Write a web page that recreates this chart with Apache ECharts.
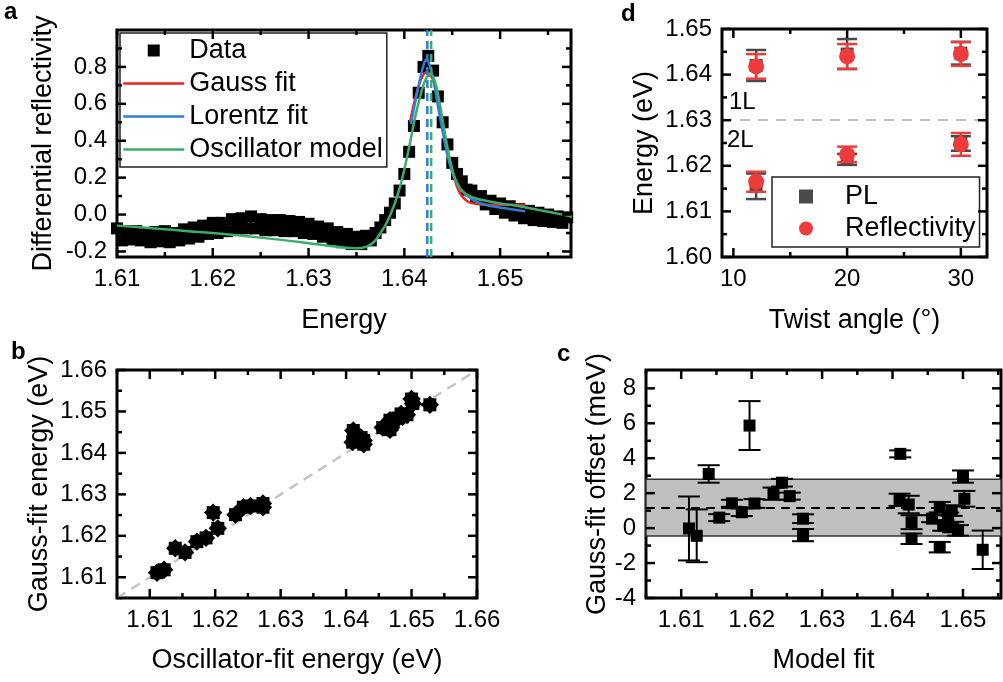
<!DOCTYPE html>
<html>
<head>
<meta charset="utf-8">
<script src="https://cdn.jsdelivr.net/npm/echarts@6.0.0/dist/echarts.min.js"></script>
<style>
  html, body { margin: 0; padding: 0; background: #fff; }
  #chart { width: 1003px; height: 682px; }
</style>
</head>
<body>
<div id="chart"></div>
<script>
// ---------- panel a: differential reflectivity spectrum and fits ----------
const reflStartEnergy = 1.61;
const reflEnergyStep = 0.0005;
const reflectivity = [
  -0.075, -0.14, -0.09, -0.135, -0.09, -0.14, -0.105, -0.15, -0.095, -0.145,
  -0.09, -0.15, -0.10, -0.14, -0.08, -0.13, -0.07, -0.12, -0.06, -0.105,
  -0.045, -0.10, -0.045, -0.09, -0.025, -0.075, -0.02, -0.075, -0.01, -0.075,
  -0.025, -0.085, -0.03, -0.085, -0.03, -0.09, -0.035, -0.09, -0.04, -0.10,
  -0.05, -0.105, -0.065, -0.12, -0.075, -0.135, -0.095, -0.15, -0.105, -0.16,
  -0.12, -0.16, -0.115, -0.14, -0.10, -0.07, -0.03, 0.01, 0.06, 0.13,
  0.22, 0.34, 0.48, 0.66, 0.80, 0.86, 0.78, 0.64, 0.50, 0.38,
  0.28, 0.22, 0.18, 0.135, 0.13, 0.09, 0.10, 0.055, 0.075, 0.03,
  0.06, 0.01, 0.045, -0.005, 0.03, -0.02, 0.02, -0.03, 0.01, -0.035,
  0.0, -0.04, -0.01, -0.045, -0.015, -0.04
];
const gaussFit = [
  [1.6406, 0.50], [1.6410, 0.60], [1.6415, 0.70], [1.6420, 0.76], [1.6423, 0.77],
  [1.6427, 0.76], [1.6432, 0.70], [1.6436, 0.60], [1.6440, 0.49], [1.6444, 0.38],
  [1.6448, 0.28], [1.6452, 0.20], [1.6456, 0.14], [1.6460, 0.10], [1.6465, 0.075],
  [1.6470, 0.062], [1.6480, 0.055], [1.6500, 0.053], [1.6526, 0.053]
];
const lorentzFit = [
  [1.6407, 0.49], [1.6411, 0.60], [1.6415, 0.70], [1.6419, 0.79], [1.6423, 0.84],
  [1.6427, 0.80], [1.6431, 0.71], [1.6435, 0.59], [1.6440, 0.45], [1.6445, 0.32],
  [1.6450, 0.23], [1.6455, 0.17], [1.6460, 0.13], [1.6470, 0.085], [1.6480, 0.06],
  [1.6495, 0.042], [1.6510, 0.03], [1.6526, 0.018]
];
const oscillatorModel = [
  [1.6100, -0.06], [1.6150, -0.08], [1.6200, -0.10], [1.6250, -0.125], [1.6300, -0.155],
  [1.6330, -0.175], [1.6350, -0.183], [1.6360, -0.175], [1.6368, -0.15], [1.6375, -0.10],
  [1.6382, -0.04], [1.6390, 0.06], [1.6397, 0.18], [1.6404, 0.34], [1.6411, 0.52],
  [1.6417, 0.65], [1.6422, 0.73], [1.6427, 0.76], [1.6432, 0.72], [1.6437, 0.60],
  [1.6442, 0.45], [1.6447, 0.31], [1.6452, 0.21], [1.6457, 0.15], [1.6463, 0.115],
  [1.6470, 0.095], [1.6480, 0.08], [1.6500, 0.06], [1.6520, 0.045], [1.6540, 0.025],
  [1.6560, 0.005], [1.6575, -0.012]
];
const lorentzPeak = 1.6424;
const oscillatorPeak = 1.6428;
const aEnergyRange = [1.61, 1.6574];
const aReflRange = [-0.23, 1.0];

// ---------- panels b and c: fitted exciton energies ----------
const oscFitEnergy = [
  1.6111, 1.6122, 1.6139, 1.6154, 1.6172, 1.6186, 1.6197, 1.6204, 1.6231, 1.6243,
  1.6254, 1.6273, 1.6273, 1.6411, 1.6410, 1.6423, 1.6427, 1.6427, 1.6456, 1.6467,
  1.6467, 1.6472, 1.6479, 1.6484, 1.6486, 1.6493, 1.6500, 1.6502, 1.6528
];
const gaussFitEnergy = [
  1.6111, 1.6118, 1.6170, 1.6160, 1.6186, 1.6195, 1.6256, 1.6218, 1.6251, 1.6269,
  1.6272, 1.6278, 1.6269, 1.6454, 1.6426, 1.6437, 1.6430, 1.6421, 1.6461, 1.6479,
  1.6456, 1.6474, 1.6484, 1.6494, 1.6487, 1.6492, 1.6530, 1.6519, 1.6516
];
const gaussOffset = [
  -0.02, -0.44, 3.10, 0.60, 1.42, 0.91, 5.87, 1.41, 1.97, 2.60,
  1.83, 0.54, -0.40, 4.25, 1.62, 1.35, 0.34, -0.61, 0.54, 1.20,
  -1.09, 0.15, 0.54, 1.00, 0.06, -0.13, 2.95, 1.68, -1.24
];
const gaussOffsetErr = [
  1.83, 1.51, 0.50, 0.20, 0.20, 0.22, 1.40, 0.25, 0.35, 0.22,
  0.20, 0.25, 0.35, 0.20, 0.35, 0.50, 0.40, 0.30, 0.20, 0.30,
  0.30, 0.30, 0.35, 0.30, 0.30, 0.30, 0.35, 0.45, 1.10
];
const offsetMean = 1.17;
const offsetBand = [-0.45, 2.8];
const bRange = [1.605, 1.66];
const cEnergyRange = [1.605, 1.6554];
const cOffsetRange = [-4, 9.05];

// ---------- panel d: exciton energy vs twist angle ----------
const twistAngles = [12, 20, 30];
const pl1L = [1.6420, 1.6445, 1.6447];
const pl1LErr = [0.0034, 0.0033, 0.0025];
const pl2L = [1.6155, 1.6214, 1.6249];
const pl2LErr = [0.0028, 0.0012, 0.0016];
const refl1L = [1.6418, 1.6440, 1.6445];
const refl1LErr = [0.0027, 0.0027, 0.0026];
const refl2L = [1.6165, 1.6225, 1.6247];
const refl2LErr = [0.0022, 0.0017, 0.0025];
const layerBoundary = 1.63;
const dAngleRange = [9, 32.3];
const dEnergyRange = [1.60, 1.65];

// ---------- tick positions ----------
const aXTicks = [1.61, 1.62, 1.63, 1.64, 1.65];
const aXMinor = [1.615, 1.625, 1.635, 1.645, 1.655];
const aYTicks = [-0.2, 0, 0.2, 0.4, 0.6, 0.8];
const aYMinor = [-0.1, 0.1, 0.3, 0.5, 0.7, 0.9];
const bTicks = [1.61, 1.62, 1.63, 1.64, 1.65, 1.66];
const bMinor = [1.605, 1.615, 1.625, 1.635, 1.645, 1.655];
const cXTicks = [1.61, 1.62, 1.63, 1.64, 1.65];
const cXMinor = [1.605, 1.615, 1.625, 1.635, 1.645, 1.655];
const cYTicks = [-4, -2, 0, 2, 4, 6, 8];
const cYMinor = [-3, -1, 1, 3, 5, 7];
const dXTicks = [10, 20, 30];
const dXMinor = [15, 25];
const dYTicks = [1.60, 1.61, 1.62, 1.63, 1.64, 1.65];
const dYMinor = [1.605, 1.615, 1.625, 1.635, 1.645];

// ---------- styling ----------
const FONT = '"Liberation Sans", Arial, Helvetica, sans-serif';
const RED = '#f0221c';
const BLUE = '#2f7dd8';
const GREEN = '#3aad6b';
const PL_GREY = '#4a4a4a';
const REFL_RED = '#ee3b3b';
const SQUARE = 'path://M0 0L10 0L10 10L0 10Z';
const MAJOR_LEN = 9, MINOR_LEN = 5;

function valueAxis(gridIndex, position, range, ticks, digits, name, nameGap) {
  return {
    type: 'value', gridIndex, position, min: range[0], max: range[1],
    axisLine: { show: false, onZero: false },
    splitLine: { show: false },
    axisTick: { show: false },
    axisLabel: { show: true, customValues: ticks, formatter: v => v.toFixed(digits),
                 fontSize: 24, color: '#000', fontFamily: FONT, margin: 10 },
    name, nameLocation: 'middle', nameGap,
    nameTextStyle: { fontSize: 27, color: '#000', fontFamily: FONT }
  };
}

// grid 0: a, grid 1: d, grid 2: b, grid 3: c
const xAxes = [
  valueAxis(0, 'bottom', aEnergyRange, aXTicks, 2, 'Energy', 50),
  valueAxis(1, 'bottom', dAngleRange, dXTicks, 0, 'Twist angle (°)', 50),
  valueAxis(2, 'bottom', bRange, bTicks, 2, 'Oscillator-fit energy (eV)', 49),
  valueAxis(3, 'bottom', cEnergyRange, cXTicks, 2, 'Model fit', 49)
];
const yAxes = [
  valueAxis(0, 'left', aReflRange, aYTicks, 1, 'Differential reflectivity', 60),
  valueAxis(1, 'left', dEnergyRange, dYTicks, 2, 'Energy (eV)', 64),
  valueAxis(2, 'left', bRange, bTicks, 2, 'Gauss-fit energy (eV)', 64),
  valueAxis(3, 'left', cOffsetRange, cYTicks, 0, 'Gauss-fit offset (meV)', 35)
];

const gridBox = { show: true, borderColor: '#000', borderWidth: 3, backgroundColor: 'transparent' };

// Vertical error bars with caps; each item is [x, y, err].
function errorBars(capHalf, color, width) {
  return function (params, api) {
    const x = api.value(0), y = api.value(1), e = api.value(2);
    const hi = api.coord([x, y + e]);
    const lo = api.coord([x, y - e]);
    const st = { stroke: color, lineWidth: width };
    return {
      type: 'group',
      children: [
        { type: 'line', shape: { x1: hi[0], y1: hi[1], x2: lo[0], y2: lo[1] }, style: st },
        { type: 'line', shape: { x1: hi[0] - capHalf, y1: hi[1], x2: hi[0] + capHalf, y2: hi[1] }, style: st },
        { type: 'line', shape: { x1: lo[0] - capHalf, y1: lo[1], x2: lo[0] + capHalf, y2: lo[1] }, style: st }
      ]
    };
  };
}

const reflData = reflectivity.map((r, i) => [reflStartEnergy + i * reflEnergyStep, r]);
const bPoints = oscFitEnergy.map((e, i) => [e, gaussFitEnergy[i]]);
const cPoints = oscFitEnergy.map((e, i) => [e, gaussOffset[i], gaussOffsetErr[i]]);
const zip3 = (xs, ys, es) => xs.map((x, i) => [x, ys[i], es[i]]);
const plPoints = zip3(twistAngles, pl1L, pl1LErr).concat(zip3(twistAngles, pl2L, pl2LErr));
const reflPoints = zip3(twistAngles, refl1L, refl1LErr).concat(zip3(twistAngles, refl2L, refl2LErr));
const vline = x => [[x, aReflRange[0]], [x, aReflRange[1]]];

const solid = c => ({ color: c, opacity: 1 });

const series = [
  // a
  { type: 'scatter', name: 'Data', xAxisIndex: 0, yAxisIndex: 0, data: reflData,
    symbol: 'rect', symbolSize: 12, itemStyle: solid('#000'), z: 2 },
  { type: 'line', name: 'Gauss fit', xAxisIndex: 0, yAxisIndex: 0, data: gaussFit,
    smooth: 0.4, symbol: 'none', lineStyle: { color: RED, width: 2.5 }, itemStyle: { color: RED }, z: 3 },
  { type: 'line', name: 'Lorentz fit', xAxisIndex: 0, yAxisIndex: 0, data: lorentzFit,
    smooth: 0.4, symbol: 'none', lineStyle: { color: BLUE, width: 2.5 }, itemStyle: { color: BLUE }, z: 4 },
  { type: 'line', name: 'Oscillator model', xAxisIndex: 0, yAxisIndex: 0, data: oscillatorModel,
    smooth: 0.4, symbol: 'none', lineStyle: { color: GREEN, width: 2.5 }, itemStyle: { color: GREEN }, z: 5 },
  { type: 'line', xAxisIndex: 0, yAxisIndex: 0, data: vline(lorentzPeak), symbol: 'none',
    lineStyle: { color: BLUE, width: 2.5, type: [8, 5] }, z: 6 },
  { type: 'line', xAxisIndex: 0, yAxisIndex: 0, data: vline(oscillatorPeak), symbol: 'none',
    lineStyle: { color: GREEN, width: 2.5, type: [8, 5] }, z: 6 },

  // d
  { type: 'custom', xAxisIndex: 1, yAxisIndex: 1, data: plPoints,
    encode: { x: 0, y: 1 }, renderItem: errorBars(10, PL_GREY, 2.5), z: 2 },
  { type: 'scatter', name: 'PL', xAxisIndex: 1, yAxisIndex: 1, data: plPoints,
    symbol: 'rect', symbolSize: 13, itemStyle: solid(PL_GREY), z: 3,
    markLine: {
      silent: true, symbol: ['none', 'none'], label: { show: false },
      lineStyle: { color: '#c0c0c0', width: 2, type: [10, 8] },
      data: [{ yAxis: layerBoundary }]
    } },
  { type: 'custom', xAxisIndex: 1, yAxisIndex: 1, data: reflPoints,
    encode: { x: 0, y: 1 }, renderItem: errorBars(10, REFL_RED, 2.5), z: 4 },
  { type: 'scatter', name: 'Reflectivity', xAxisIndex: 1, yAxisIndex: 1, data: reflPoints,
    symbol: 'circle', symbolSize: 16, itemStyle: solid(REFL_RED), z: 5 },

  // b
  { type: 'line', xAxisIndex: 2, yAxisIndex: 2,
    data: [[bRange[0], bRange[0]], [bRange[1], bRange[1]]],
    symbol: 'none', lineStyle: { color: '#c4c4c4', width: 2.5, type: [10, 7] }, z: 1 },
  { type: 'scatter', xAxisIndex: 2, yAxisIndex: 2, data: bPoints,
    symbol: 'rect', symbolSize: 13, itemStyle: solid('#000'), z: 2 },
  { type: 'scatter', xAxisIndex: 2, yAxisIndex: 2, data: bPoints,
    symbol: 'rect', symbolRotate: 45, symbolSize: 13, itemStyle: solid('#000'), z: 2 },

  // c
  { type: 'custom', xAxisIndex: 3, yAxisIndex: 3, data: cPoints,
    encode: { x: 0, y: 1 }, renderItem: errorBars(11, '#000', 2), z: 2,
    markArea: {
      silent: true,
      itemStyle: { color: '#c0c0c0', borderColor: '#333', borderWidth: 1.5, opacity: 1 },
      data: [[{ yAxis: offsetBand[0] }, { yAxis: offsetBand[1] }]]
    },
    markLine: {
      silent: true, symbol: ['none', 'none'], label: { show: false },
      lineStyle: { color: '#000', width: 2, type: [9, 6] },
      data: [{ yAxis: offsetMean }]
    } },
  { type: 'scatter', xAxisIndex: 3, yAxisIndex: 3, data: cPoints,
    symbol: 'rect', symbolSize: 12, itemStyle: solid('#000'), z: 3 }
];

const legendText = { fontSize: 27, lineHeight: 27, color: '#000', fontFamily: FONT };

const option = {
  animation: false,
  backgroundColor: '#fff',
  grid: [
    Object.assign({ left: 117, top: 30, width: 454, height: 227 }, gridBox),
    Object.assign({ left: 722, top: 29, width: 265, height: 228 }, gridBox),
    Object.assign({ left: 117, top: 370, width: 360, height: 228 }, gridBox),
    Object.assign({ left: 646, top: 370, width: 355, height: 228 }, gridBox)
  ],
  xAxis: xAxes,
  yAxis: yAxes,
  legend: [
    { data: [
        { name: 'Data', icon: SQUARE, itemStyle: { opacity: 1, color: '#000' } },
        { name: 'Gauss fit' }, { name: 'Lorentz fit' }, { name: 'Oscillator model' }
      ],
      orient: 'vertical', left: 120, top: 33, padding: [4, 4, 4, 2],
      itemWidth: 61, itemHeight: 12, itemGap: 6, selectedMode: false,
      symbolKeepAspect: true,
      itemStyle: { opacity: 0 },
      lineStyle: { width: 2.5 },
      borderColor: '#222', borderWidth: 1.5, backgroundColor: '#fff',
      textStyle: legendText },
    { data: [
        { name: 'PL', icon: SQUARE, itemStyle: { opacity: 1, color: PL_GREY } },
        { name: 'Reflectivity', icon: 'circle', itemStyle: { opacity: 1, color: REFL_RED } }
      ],
      orient: 'vertical', left: 772, top: 177, padding: [6, 4, 5, 27],
      itemWidth: 68, itemHeight: 14, itemGap: 5, selectedMode: false,
      symbolKeepAspect: true,
      borderColor: '#222', borderWidth: 1.5, backgroundColor: '#fff',
      textStyle: legendText }
  ],
  series
};

const chart = echarts.init(document.getElementById('chart'), null, { renderer: 'canvas' });
chart.setOption(option);

// Inward frame ticks on all four sides, placed through each grid's axis scales.
const frames = [
  [0, aEnergyRange, aReflRange, aXTicks, aXMinor, aYTicks, aYMinor],
  [1, dAngleRange, dEnergyRange, dXTicks, dXMinor, dYTicks, dYMinor],
  [2, bRange, bRange, bTicks, bMinor, bTicks, bMinor],
  [3, cEnergyRange, cOffsetRange, cXTicks, cXMinor, cYTicks, cYMinor]
];
const tickStyle = { stroke: '#000', lineWidth: 2.5 };
const tickLine = (x1, y1, x2, y2) => ({ type: 'line', shape: { x1, y1, x2, y2 }, style: tickStyle, z: 100, silent: true });
const tickGraphics = [];
frames.forEach(([gi, xr, yr, xMaj, xMin, yMaj, yMin]) => {
  const toPx = v => chart.convertToPixel({ gridIndex: gi }, v);
  const xTick = (v, len) => {
    const b = toPx([v, yr[0]]), t = toPx([v, yr[1]]);
    tickGraphics.push(tickLine(b[0], b[1], b[0], b[1] - len), tickLine(t[0], t[1], t[0], t[1] + len));
  };
  const yTick = (v, len) => {
    const l = toPx([xr[0], v]), r = toPx([xr[1], v]);
    tickGraphics.push(tickLine(l[0], l[1], l[0] + len, l[1]), tickLine(r[0], r[1], r[0] - len, r[1]));
  };
  xMaj.forEach(v => xTick(v, MAJOR_LEN));
  xMin.forEach(v => xTick(v, MINOR_LEN));
  yMaj.forEach(v => yTick(v, MAJOR_LEN));
  yMin.forEach(v => yTick(v, MINOR_LEN));
});

const panelLabel = (text, left, top) => ({
  type: 'text', left, top,
  style: { text, font: 'bold 24px ' + FONT, fill: '#000' }
});
const noteLabel = (text, left, top) => ({
  type: 'text', left, top,
  style: { text, font: '24px ' + FONT, fill: '#000' }
});

chart.setOption({
  graphic: [
    panelLabel('a', 4, 0),
    panelLabel('d', 621, 2),
    panelLabel('b', 11, 340),
    panelLabel('c', 557, 342),
    noteLabel('1L', 729, 90),
    noteLabel('2L', 727, 128)
  ].concat(tickGraphics)
});
</script>
</body>
</html>
